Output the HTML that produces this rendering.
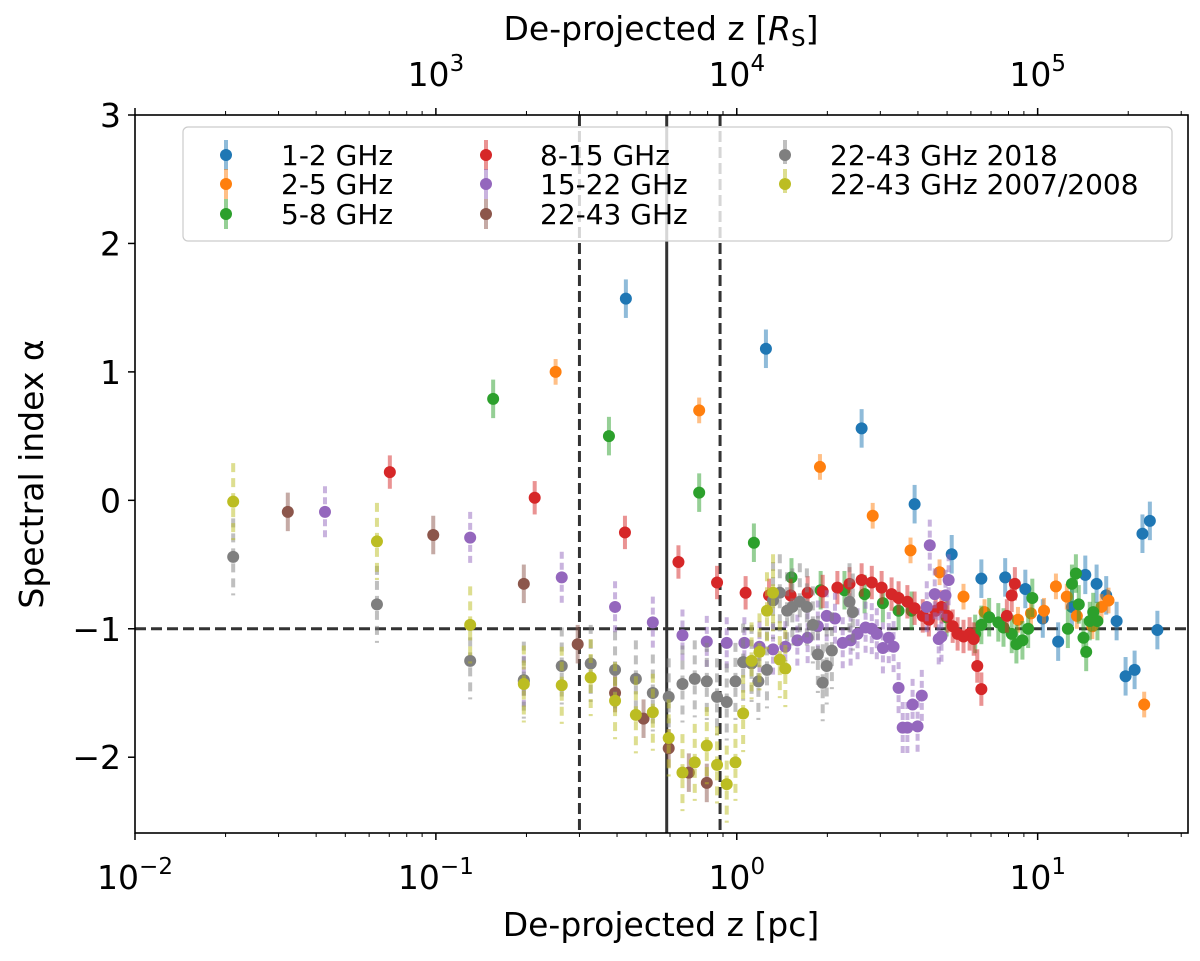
<!DOCTYPE html>
<html><head><meta charset="utf-8"><style>
body{margin:0;background:#fff}
svg text{font-family:"DejaVu Sans","Liberation Sans",sans-serif;fill:#000}
</style></head><body>
<svg id="c" width="1200" height="956" xmlns="http://www.w3.org/2000/svg"></svg>
<script>
const seriesNames=["1-2 GHz","2-5 GHz","5-8 GHz","8-15 GHz","15-22 GHz","22-43 GHz","22-43 GHz 2018","22-43 GHz 2007/2008"];
const seriesColors=["#1f77b4","#ff7f0e","#2ca02c","#d62728","#9467bd","#8c564b","#7f7f7f","#bcbd22"];
const seriesErr=[0.15,0.1,0.15,0.13,0.2,0.15,0.3,0.3];
const blueX=[0.428,1.25,2.6,3.9,5.18,6.5,7.8,9.1,10.4,11.7,13.0,14.4,15.7,16.9,18.3,19.6,21,22.3,23.6,25.0];
const blueY=[1.57,1.18,0.56,-0.03,-0.42,-0.61,-0.6,-0.69,-0.92,-1.1,-0.83,-0.58,-0.65,-0.74,-0.94,-1.37,-1.32,-0.26,-0.16,-1.01];
const orangeX=[0.25,0.75,1.89,2.83,3.78,4.72,5.67,6.66,8.6,9.5,10.5,11.5,12.5,13.5,15.2,16.3,17.2,22.6];
const orangeY=[1.0,0.70,0.26,-0.12,-0.39,-0.56,-0.75,-0.87,-0.93,-0.88,-0.86,-0.67,-0.75,-0.9,-0.98,-0.83,-0.78,-1.59];
const greenX=[0.155,0.376,0.75,1.14,1.52,1.9,2.28,2.66,3.06,3.45,3.81,4.98,6.2,6.5,6.9,7.4,7.7,8.2,8.5,8.9,9.3,9.6,12.6,13.0,13.4,13.7,14.2,14.5,14.9,15.3,15.8];
const greenY=[0.79,0.50,0.06,-0.33,-0.6,-0.7,-0.70,-0.73,-0.80,-0.86,-0.86,-0.91,-1.04,-0.97,-0.91,-0.95,-0.99,-1.04,-1.12,-1.09,-1.0,-0.76,-1.0,-0.65,-0.57,-0.81,-1.07,-1.18,-0.94,-0.87,-0.94];
const redX=[0.0703,0.213,0.425,0.64,0.86,1.07,1.28,1.51,1.72,1.93,2.16,2.37,2.6,2.81,3.03,3.27,3.45,3.69,3.9,4.15,4.35,4.58,4.79,5.02,5.22,5.42,5.67,5.94,6.13,6.3,6.5,7.9,8.2,8.4];
const redY=[0.22,0.02,-0.25,-0.48,-0.64,-0.72,-0.74,-0.74,-0.72,-0.71,-0.68,-0.65,-0.62,-0.64,-0.68,-0.73,-0.76,-0.79,-0.84,-0.9,-0.93,-0.86,-0.83,-0.9,-0.98,-1.04,-1.06,-1.04,-1.08,-1.29,-1.47,-0.9,-0.74,-0.65];
const purpleX=[0.0428,0.13,0.196,0.262,0.394,0.526,0.66,0.795,0.926,1.06,1.19,1.32,1.45,1.59,1.72,1.86,1.99,2.12,2.25,2.39,2.52,2.68,2.81,2.92,3.06,3.2,3.32,3.45,3.56,3.69,3.84,3.99,4.12,4.28,4.38,4.55,4.69,4.79,4.94,5.06];
const purpleY=[-0.09,-0.29,-1.41,-0.6,-0.83,-0.95,-1.05,-1.1,-1.11,-1.11,-1.14,-1.16,-1.14,-1.09,-1.07,-0.98,-0.9,-0.92,-1.11,-1.09,-1.04,-0.99,-1.0,-1.04,-1.15,-1.07,-1.14,-1.46,-1.77,-1.77,-1.59,-1.76,-1.52,-0.83,-0.35,-0.73,-1.08,-1.06,-0.74,-0.62];
const brownX=[0.0322,0.098,0.196,0.296,0.394,0.49,0.594,0.693,0.795];
const brownY=[-0.09,-0.27,-0.65,-1.12,-1.5,-1.7,-1.93,-2.12,-2.2];
const grayX=[0.0212,0.0637,0.13,0.196,0.262,0.327,0.394,0.462,0.526,0.594,0.66,0.725,0.795,0.86,0.926,0.99,1.05,1.12,1.18,1.26,1.32,1.39,1.47,1.53,1.62,1.71,1.79,1.86,1.93,1.99,2.07,2.37,2.43];
const grayY=[-0.44,-0.81,-1.25,-1.4,-1.29,-1.27,-1.32,-1.39,-1.5,-1.53,-1.43,-1.39,-1.41,-1.53,-1.57,-1.41,-1.26,-1.27,-1.41,-1.32,-0.78,-0.72,-0.86,-0.83,-0.79,-0.83,-0.97,-1.2,-1.42,-1.29,-1.17,-0.79,-0.87];
const yellowX=[0.0212,0.0637,0.13,0.196,0.262,0.327,0.394,0.462,0.526,0.594,0.66,0.725,0.795,0.86,0.926,0.99,1.05,1.12,1.19,1.26,1.32,1.39,1.45];
const yellowY=[-0.01,-0.32,-0.97,-1.43,-1.44,-1.38,-1.56,-1.67,-1.65,-1.85,-2.12,-2.04,-1.91,-2.06,-2.21,-2.04,-1.66,-1.25,-1.18,-0.86,-0.72,-1.24,-1.31];
const allX=[blueX,orangeX,greenX,redX,purpleX,brownX,grayX,yellowX];
const allY=[blueY,orangeY,greenY,redY,purpleY,brownY,grayY,yellowY];
const yTicks=[3,2,1,0,-1,-2];
const xExp=[-2,-1,0,1];
const topExp=[3,4,5];
const refVX=[0.30,0.88];
const refSolidX=[0.585];

const L=135,R=1188,T=115,B=833;
const xMinLog=-2,xMaxLog=Math.log10(31.6);
const yMin=-2.59,yMax=3;
function xs(v){return L+(Math.log10(v)-xMinLog)/(xMaxLog-xMinLog)*(R-L);}
function ys(v){return B-(v-yMin)/(yMax-yMin)*(B-T);}
const svg=document.getElementById('c');
const NS="http://www.w3.org/2000/svg";
function el(tag,attrs,parent){const e=document.createElementNS(NS,tag);for(const k in attrs)e.setAttribute(k,attrs[k]);(parent||svg).appendChild(e);return e;}

const gRef=el('g',{});


refVX.forEach(v=>{const l=el('line',{x1:xs(v),x2:xs(v),y1:T,y2:B,stroke:'#333','stroke-width':3,'stroke-dasharray':'11,5'},gRef);

});
refSolidX.forEach(v=>{const l=el('line',{x1:xs(v),x2:xs(v),y1:T,y2:B,stroke:'#333','stroke-width':3},gRef);

});
const hl=el('line',{x1:L,x2:R,y1:ys(-1),y2:ys(-1),stroke:'#333','stroke-width':3,'stroke-dasharray':'11,5'},gRef);



for(let s=0;s<8;s++){
  const g=el('g',{});
  
  
  const dash=s>=6?'9,6':(s==4?'7,4':'none');
  for(let i=0;i<allX[s].length;i++){
    const x=xs(allX[s][i]),y=allY[s][i],e=seriesErr[s];
    const eb=el('line',{x1:x,x2:x,y1:ys(y+e),y2:ys(y-e),stroke:seriesColors[s],'stroke-width':4,'stroke-opacity':0.5,'stroke-dasharray':dash},g);
    
    
  }
  for(let i=0;i<allX[s].length;i++){
    const p=el('circle',{cx:xs(allX[s][i]),cy:ys(allY[s][i]),r:6,fill:seriesColors[s]},g);
    
    
  }
}

const fr=el('rect',{x:L,y:T,width:R-L,height:B-T,fill:'none',stroke:'#000','stroke-width':1.6});



yTicks.forEach(v=>{
  el('line',{x1:L-7,x2:L,y1:ys(v),y2:ys(v),stroke:'#000','stroke-width':1.5});
  const t=el('text',{x:L-14,y:ys(v)+12,'text-anchor':'end','font-size':33});
  t.textContent=(v<0?'\u2212'+(-v):String(v));
  
  
});
for(let d=-2;d<=1;d++){
  for(let m=1;m<=9;m++){
    const v=m*Math.pow(10,d);const x=xs(v);if(x>R+0.5)continue;
    const len=m==1?7:4;
    el('line',{x1:x,x2:x,y1:B,y2:B+len,stroke:'#000','stroke-width':m==1?1.5:1});
    el('line',{x1:x,x2:x,y1:T,y2:T-len,stroke:'#000','stroke-width':m==1?1.5:1});
  }
}
xExp.forEach(e=>{
  const t=el('text',{x:xs(Math.pow(10,e)),y:889,'text-anchor':'middle','font-size':33});
  t.innerHTML='10<tspan dy="-15" font-size="23">'+(e<0?'\u2212'+(-e):e)+'</tspan>';
  
  
});
topExp.forEach(e=>{
  const t=el('text',{x:xs(Math.pow(10,e-4)),y:86,'text-anchor':'middle','font-size':33});
  t.innerHTML='10<tspan dy="-15" font-size="23">'+e+'</tspan>';
  
  
});
let t=el('text',{x:661,y:936,'text-anchor':'middle','font-size':33});
t.textContent='De-projected z [pc]';


t=el('text',{x:661,y:40,'text-anchor':'middle','font-size':33});
t.innerHTML='De-projected z [<tspan font-style="italic">R</tspan><tspan font-size="23" dy="6">S</tspan><tspan dy="-6">]</tspan>';


t=el('text',{x:0,y:0,'text-anchor':'middle','font-size':33,transform:'translate(43,474) rotate(-90)'});
t.textContent='Spectral index \u03b1';



const lg=el('g',{});


el('rect',{x:183,y:127,width:989,height:114,rx:5,fill:'#fff','fill-opacity':0.8,stroke:'#ccc','stroke-width':1.2},lg);
const colMX=[226,486,785],colTX=[281,540,830],rowY=[155,184,214];
for(let s=0;s<8;s++){
  const c=s<3?0:(s<6?1:2),r=s<3?s:(s<6?s-3:s-6);
  const g=el('g',{},lg);
  
  
  el('line',{x1:colMX[c],x2:colMX[c],y1:rowY[r]-15,y2:rowY[r]+15,stroke:seriesColors[s],'stroke-width':4,'stroke-opacity':0.5,'stroke-dasharray':s>=6?'9,6':'none'},g);
  el('circle',{cx:colMX[c],cy:rowY[r],r:6,fill:seriesColors[s]},g);
  const tx=el('text',{x:colTX[c],y:rowY[r]+10,'font-size':28},g);
  tx.textContent=seriesNames[s];
}
</script>
</body></html>
